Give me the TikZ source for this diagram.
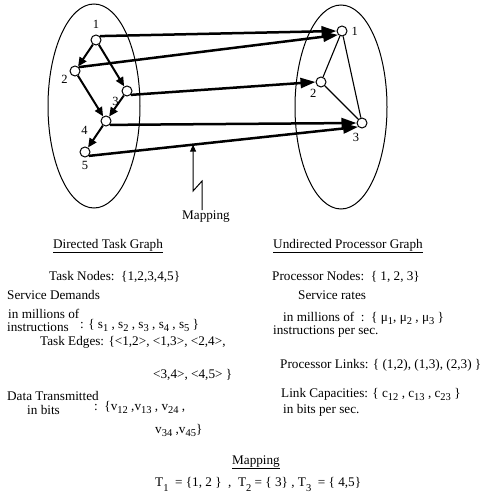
\documentclass[tikz,border=0pt]{standalone}
\usepackage{fontspec}
\setmainfont{Liberation Serif}
\usetikzlibrary{arrows.meta}
\newcommand{\lo}[2][0.5ex]{\raisebox{-#1}{\fontsize{10.5}{11}\selectfont #2}}

\begin{document}
\begin{tikzpicture}[x=1pt, y=-1pt,
	txt/.style={font=\fontsize{13.2}{15}\selectfont, inner sep=0pt},
	vtx/.style={circle, draw, fill=white, line width=1pt, minimum size=10pt, inner sep=0pt},
	every label/.style={font=\fontsize{12.5}{14}\selectfont, inner sep=2pt},
	taskedge/.style={line width=2pt, -{Triangle[length=9pt,width=8pt]}},
	mapedge/.style={line width=2.5pt, -{Triangle[length=15pt,width=10pt]}},
	linkedge/.style={line width=1.1pt}]
	\useasboundingbox (0,0) rectangle (494,497);
	% Ellipses and graph nodes:
	\draw[line width=1pt] (94,106) ellipse [x radius=46pt, y radius=102pt];
	\draw[line width=1pt] (341,107) ellipse [x radius=46pt, y radius=102pt];
	\node[vtx, label={[label distance=4pt]above:1}] (t1) at (96,40){};
	\node[vtx, label={[label distance=0pt]200:2}] (t2) at (75,71){};
	\node[vtx, label={[label distance=2pt]215:3}] (t3) at (127,91){};
	\node[vtx, label={[label distance=11pt]190:4}] (t4) at (106,121){};
	\node[vtx, label={[label distance=2pt]below:5}] (t5) at (85,152){};
	\node[vtx, label={[label distance=2pt]right:1}] (p1) at (342,31){};
	\node[vtx, label={[label distance=0pt]245:2}] (p2) at (321,82){};
	\node[vtx, label={[label distance=3pt]265:3}] (p3) at (362,123){};
	% Edges:
	\draw[taskedge] (t1) -- (t2);
	\draw[taskedge] (t1) -- (t3);
	\draw[taskedge] (t2) -- (t4);
	\draw[taskedge] (t3) -- (t4);
	\draw[taskedge] (t4) -- (t5);
	\draw[linkedge] (p1) -- (p2);
	\draw[linkedge] (p1) -- (p3);
	\draw[linkedge] (p2) -- (p3);
	\draw[mapedge] (t1.north east) -- (p1.west);
	\draw[mapedge] (t2.north east) -- (p1.south west);
	\draw[mapedge] (t3.south east) -- (p2.west);
	\draw[mapedge] (t4.south east) -- (p3.west);
	\draw[mapedge] (t5.south east) -- coordinate[pos=0.387] (hit) (p3.south west);
	\node[txt, anchor=base] (mapnote) at (206,219){Mapping};
	\draw[line width=1pt, -{Triangle[length=7pt,width=6pt]}] ([xshift=-4pt]mapnote.north) -- ++(0,-29) -- ++(-9,10) -- (hit);
	% Texts:
	\node[txt, anchor=base] (dtg) at (108,248){\underline{Directed Task Graph}};
	\node[txt, anchor=base] (upg) at (348,248){\underline{Undirected Processor Graph}};
	\node[txt, anchor=base west] (tnodes) at (49,280){Task Nodes:\ \ \{1,2,3,4,5\}};
	\node[txt, anchor=base west] (pnodes) at (272,280){Processor Nodes:\ \ \{ 1, 2, 3\}};
	\node[txt, anchor=base west] (sdem) at (7,299){Service Demands};
	\node[txt, anchor=base west] (srate) at (298,299){Service rates};
	\node[txt, anchor=base west] (milA) at (8,318){in millions of};
	\node[txt, anchor=base west] (insA) at (7,331){instructions};
	\node[txt, anchor=base west] (sset) at (80,328){: \{ s\lo{1} , s\lo{2} , s\lo{3} , s\lo{4} , s\lo{5} \}};
	\node[txt, anchor=base west] (milB) at (283,321){in millions of\ \ :\ \ \{ μ\lo{1}, μ\lo{2} , μ\lo{3} \}};
	\node[txt, anchor=base west] (insB) at (273,334){instructions per sec.};
	\node[txt, anchor=base west] (tedges) at (40,345){Task Edges: \{<1,2>, <1,3>, <2,4>,};
	\node[txt, anchor=base west] (tedges2) at (153,378){<3,4>, <4,5> \}};
	\node[txt, anchor=base west] (plinks) at (280,368){Processor Links: \{ (1,2), (1,3), (2,3) \}};
	\node[txt, anchor=base west] (lcap) at (281,397){Link Capacities: \{ c\lo{12} , c\lo{13} , c\lo{23} \}};
	\node[txt, anchor=base west] (lcapu) at (283,413){in bits per sec.};
	\node[txt, anchor=base west] (dtx) at (7,400){Data Transmitted};
	\node[txt, anchor=base west] (dtxu) at (27,414){in bits};
	\node[txt, anchor=base west] (vset) at (94,410){:\ \ \{v\lo{12} ,v\lo{13} , v\lo{24} ,};
	\node[txt, anchor=base west] (vset2) at (155,433){v\lo{34} ,v\lo{45}\}};
	\node[txt, anchor=base] (maphead) at (256,464){\underline{Mapping}};
	\node[txt, anchor=base west] (mapset) at (155,486){T\lo[0.9ex]{1}\ \ = \{1, 2 \}\ \ ,\ \ T\lo[0.9ex]{2} = \{ 3\} , T\lo[0.9ex]{3}\ \ = \{ 4,5\}};
\end{tikzpicture}
\end{document}
